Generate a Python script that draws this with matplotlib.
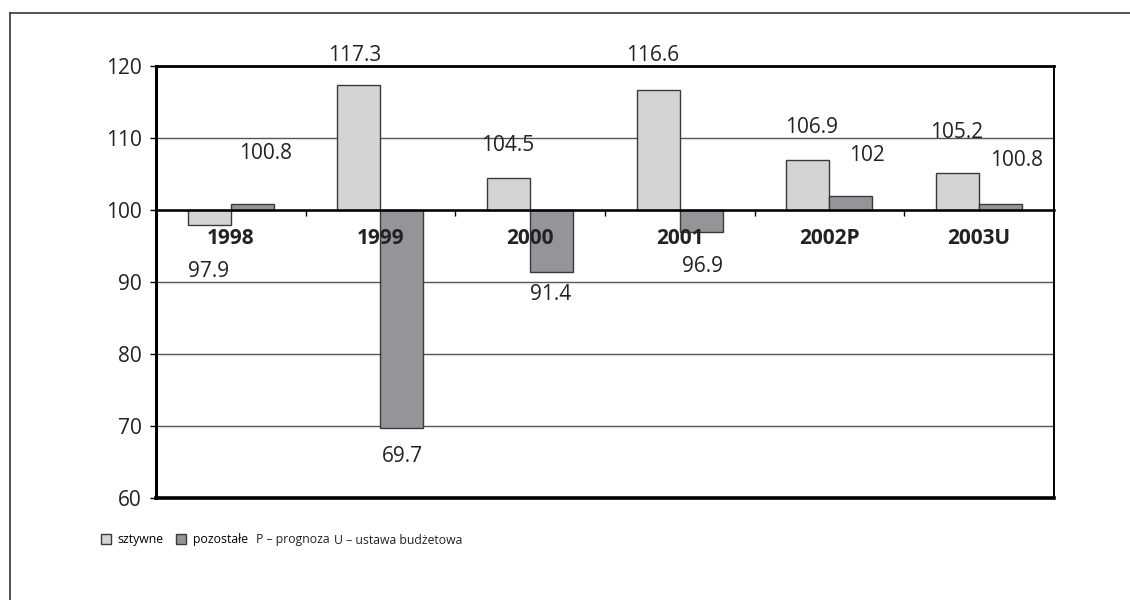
import matplotlib.pyplot as plt
import numpy as np
from matplotlib.lines import Line2D
from matplotlib.patches import Patch

plt.rcParams['font.family'] = ['Open Sans', 'DejaVu Sans']

years = ["1998", "1999", "2000", "2001", "2002P", "2003U"]
sztywne = [97.9, 117.3, 104.5, 116.6, 106.9, 105.2]
pozostale = [100.8, 69.7, 91.4, 96.9, 102.0, 100.8]

# value label placement: shift from category centre and height on the value axis
sztywne_label_dx = [-0.15, -0.17, -0.15, -0.18, -0.12, -0.15]
sztywne_label_y = [91.4, 121.5, 109.0, 121.5, 111.5, 110.7]
pozostale_label_dx = [0.23, 0.15, 0.14, 0.15, 0.25, 0.25]
pozostale_label_y = [107.9, 65.7, 88.2, 92.1, 107.6, 106.9]

BASE = 100
LIGHT = "#d3d4d6"
DARK = "#939598"
EDGE = "#3a3a3a"
GRID = "#555555"


def main():
    fig = plt.figure(figsize=(11.3, 6), dpi=100)
    ax = fig.add_axes([0.138, 0.17, 0.7947, 0.72])

    x = np.arange(len(years))
    w = 0.287
    ax.bar(x - w / 2, np.array(sztywne) - BASE, w, bottom=BASE, color=LIGHT,
           edgecolor=EDGE, linewidth=1.0, zorder=3)
    ax.bar(x + w / 2, np.array(pozostale) - BASE, w, bottom=BASE, color=DARK,
           edgecolor=EDGE, linewidth=1.0, zorder=3)

    for i in range(len(years)):
        ax.text(i + sztywne_label_dx[i], sztywne_label_y[i], f"{sztywne[i]:g}",
                ha='center', va='center', fontsize=15, color='#222', clip_on=False)
        ax.text(i + pozostale_label_dx[i], pozostale_label_y[i], f"{pozostale[i]:g}",
                ha='center', va='center', fontsize=15, color='#222', clip_on=False)

    ax.set_xlim(-0.5, len(years) - 0.5)
    ax.set_ylim(60, 120)
    ax.set_yticks(range(60, 121, 10))
    ax.yaxis.grid(True, color=GRID, linewidth=1.0)
    ax.set_axisbelow(True)
    # year labels sit on top of the bars
    ax.xaxis.set_zorder(5)

    # category axis crosses at 100
    ax.spines['bottom'].set_position(('data', BASE))
    ax.spines['bottom'].set_linewidth(1.8)
    ax.spines['bottom'].set_zorder(4)
    ax.spines['left'].set_linewidth(2.2)
    ax.spines['top'].set_linewidth(2.0)
    ax.spines['right'].set_linewidth(1.4)
    ax.axhline(60, color='black', linewidth=2.6, clip_on=False, zorder=4)

    ax.set_xticks(x)
    ax.set_xticklabels(years, fontweight='bold', fontsize=15, color='#222')
    ax.set_xticks(x[:-1] + 0.5, minor=True)
    ax.tick_params(axis='x', which='major', length=0, pad=13)
    ax.tick_params(axis='x', which='minor', direction='out', length=4, width=1)
    ax.tick_params(axis='y', direction='out', length=4, width=1, labelsize=15,
                   pad=6, labelcolor='#222')

    fig.legend(handles=[Patch(facecolor=LIGHT, edgecolor=EDGE, label='sztywne'),
                        Patch(facecolor=DARK, edgecolor=EDGE, label='pozostałe')],
               loc='center left', bbox_to_anchor=(0.089, 0.1), ncol=2, frameon=False,
               fontsize=8.8, handlelength=0.85, handleheight=0.85, handletextpad=0.55,
               columnspacing=1.0, borderpad=0, borderaxespad=0)
    fig.text(256 / 1130, 0.1, "P – prognoza", va='center', fontsize=8.8, color='#222')
    fig.text(334 / 1130, 0.1, "U – ustawa budżetowa", va='center', fontsize=8.8,
             color='#222')

    # outer frame
    fig.add_artist(Line2D([10 / 1130, 1], [1 - 13 / 600] * 2, transform=fig.transFigure,
                          color='#444', linewidth=1.3))
    fig.add_artist(Line2D([10 / 1130] * 2, [0, 1 - 13 / 600], transform=fig.transFigure,
                          color='#444', linewidth=1.3))

    fig.savefig("out.png", dpi=100)


if __name__ == '__main__':
    main()
